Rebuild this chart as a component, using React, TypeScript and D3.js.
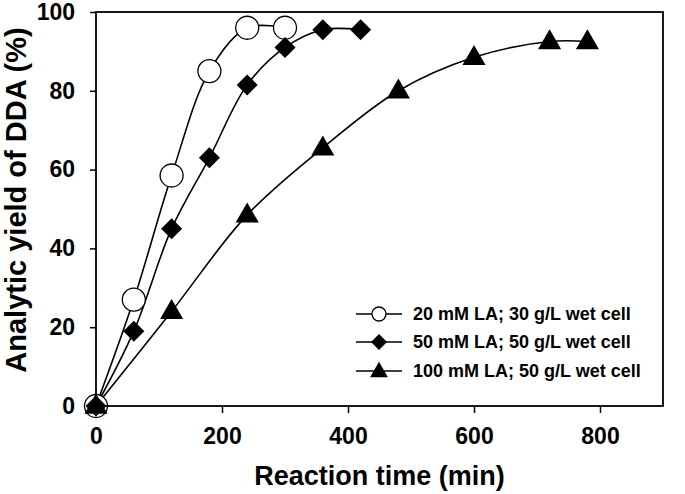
import * as d3 from 'd3'
import React, { useEffect, useRef } from 'react'

// reaction time (min) and analytic yield of DDA (%)
const timeA = [0, 60, 120, 180, 240, 300]
const yieldA = [0, 27, 58.5, 85, 96, 96]

const timeB = [0, 60, 120, 180, 240, 300, 360, 420]
const yieldB = [0, 19, 45, 63, 81.5, 91, 95.5, 95.5]

const timeC = [0, 120, 240, 360, 480, 600, 720, 780]
const yieldC = [0, 24, 48.5, 65.5, 80, 88.5, 92.5, 92.5]

const seriesNames = [
  '20 mM LA; 30 g/L wet cell',
  '50 mM LA; 50 g/L wet cell',
  '100 mM LA; 50 g/L wet cell'
]

const xTicks = [0, 200, 400, 600, 800]
const yTicks = [0, 20, 40, 60, 80, 100]

const W = 685
const H = 494
const FONT = '"Liberation Sans", Arial, Helvetica, sans-serif'

type Kind = 'circle' | 'diamond' | 'triangle'

export default function App() {
  const svgRef = useRef<SVGSVGElement>(null)

  useEffect(() => {
    if (!svgRef.current) return
    const svg = d3.select(svgRef.current)
    svg.selectAll('*').remove()

    const left = 96, right = 663, top = 12, bottom = 406

    const x = d3.scaleLinear().domain([0, 900]).range([left, right])
    const y = d3.scaleLinear().domain([0, 100]).range([bottom, top])

    const series = [
      { t: timeA, v: yieldA, kind: 'circle' as Kind },
      { t: timeB, v: yieldB, kind: 'diamond' as Kind },
      { t: timeC, v: yieldC, kind: 'triangle' as Kind }
    ]

    // marker drawing helper
    const drawMarker = (g: any, kind: Kind, cx: number, cy: number, s: number) => {
      if (kind === 'circle') {
        g.append('circle')
          .attr('cx', cx).attr('cy', cy).attr('r', s * 0.5)
          .attr('fill', 'white').attr('stroke', 'black').attr('stroke-width', 1.3)
      } else if (kind === 'diamond') {
        const side = s / Math.SQRT2
        g.append('path')
          .attr('d', d3.symbol(d3.symbolSquare, side * side)())
          .attr('transform', `translate(${cx},${cy}) rotate(45)`)
          .attr('fill', 'black')
      } else {
        const side = s * 1.05
        g.append('path')
          .attr('d', d3.symbol(d3.symbolTriangle, (Math.sqrt(3) / 4) * side * side)())
          .attr('transform', `translate(${cx},${cy + 1})`)
          .attr('fill', 'black')
      }
    }

    const line = d3.line<[number, number]>()
      .x(d => x(d[0]))
      .y(d => y(d[1]))
      .curve(d3.curveCatmullRom.alpha(0.5))

    // fitted curves
    series.forEach(s => {
      const pts = s.t.map((t, i) => [t, s.v[i]] as [number, number])
      svg.append('path')
        .datum(pts)
        .attr('d', line)
        .attr('fill', 'none')
        .attr('stroke', 'black')
        .attr('stroke-width', 1.6)
    })

    // markers
    const markerSize: Record<Kind, number> = { circle: 23, diamond: 21, triangle: 22 }
    series.forEach(s => {
      const g = svg.append('g')
      s.t.forEach((t, i) => drawMarker(g, s.kind, x(t), y(s.v[i]), markerSize[s.kind]))
    })

    // frame
    svg.append('rect')
      .attr('x', left).attr('y', top)
      .attr('width', right - left).attr('height', bottom - top)
      .attr('fill', 'none').attr('stroke', 'black').attr('stroke-width', 1.8)

    // x axis
    const xAxis = svg.append('g')
      .attr('transform', `translate(0,${bottom})`)
      .call(d3.axisBottom(x).tickValues(xTicks).tickSize(7).tickPadding(15).tickSizeOuter(0))
    xAxis.select('.domain').remove()
    xAxis.selectAll('line').attr('stroke', 'black').attr('stroke-width', 1.5)
    xAxis.selectAll('text')
      .attr('font-family', FONT).attr('font-weight', 'bold').attr('font-size', 23).attr('fill', 'black')

    // y axis
    const yAxis = svg.append('g')
      .attr('transform', `translate(${left},0)`)
      .call(d3.axisLeft(y).tickValues(yTicks).tickSize(6).tickPadding(15).tickSizeOuter(0))
    yAxis.select('.domain').remove()
    yAxis.selectAll('line').attr('stroke', 'black').attr('stroke-width', 1.5)
    yAxis.selectAll('text')
      .attr('font-family', FONT).attr('font-weight', 'bold').attr('font-size', 23).attr('fill', 'black')

    // axis titles
    svg.append('text')
      .attr('x', (left + right) / 2).attr('y', 485)
      .attr('text-anchor', 'middle')
      .attr('font-family', FONT).attr('font-weight', 'bold').attr('font-size', 27)
      .text('Reaction time (min)')

    svg.append('text')
      .attr('transform', `translate(26,${(top + bottom) / 2 - 9}) rotate(-90)`)
      .attr('text-anchor', 'middle')
      .attr('font-family', FONT).attr('font-weight', 'bold').attr('font-size', 29)
      .text('Analytic yield of DDA (%)')

    // legend
    const legRows = [314, 342, 371]
    const legendSize: Record<Kind, number> = { circle: 14, diamond: 16, triangle: 17 }
    series.forEach((s, i) => {
      const ly = legRows[i]
      svg.append('line')
        .attr('x1', 356).attr('x2', 402).attr('y1', ly).attr('y2', ly)
        .attr('stroke', 'black').attr('stroke-width', 1.5)
      drawMarker(svg, s.kind, 379, ly, legendSize[s.kind])
      svg.append('text')
        .attr('x', 413).attr('y', ly)
        .attr('dy', '0.36em')
        .attr('font-family', FONT).attr('font-weight', 'bold').attr('font-size', 18)
        .text(seriesNames[i])
    })
  }, [])

  return (
    <div style={{ position: 'absolute', left: 0, top: 0 }}>
      <svg ref={svgRef} width={W} height={H} style={{ display: 'block', background: 'white' }} />
    </div>
  )
}
